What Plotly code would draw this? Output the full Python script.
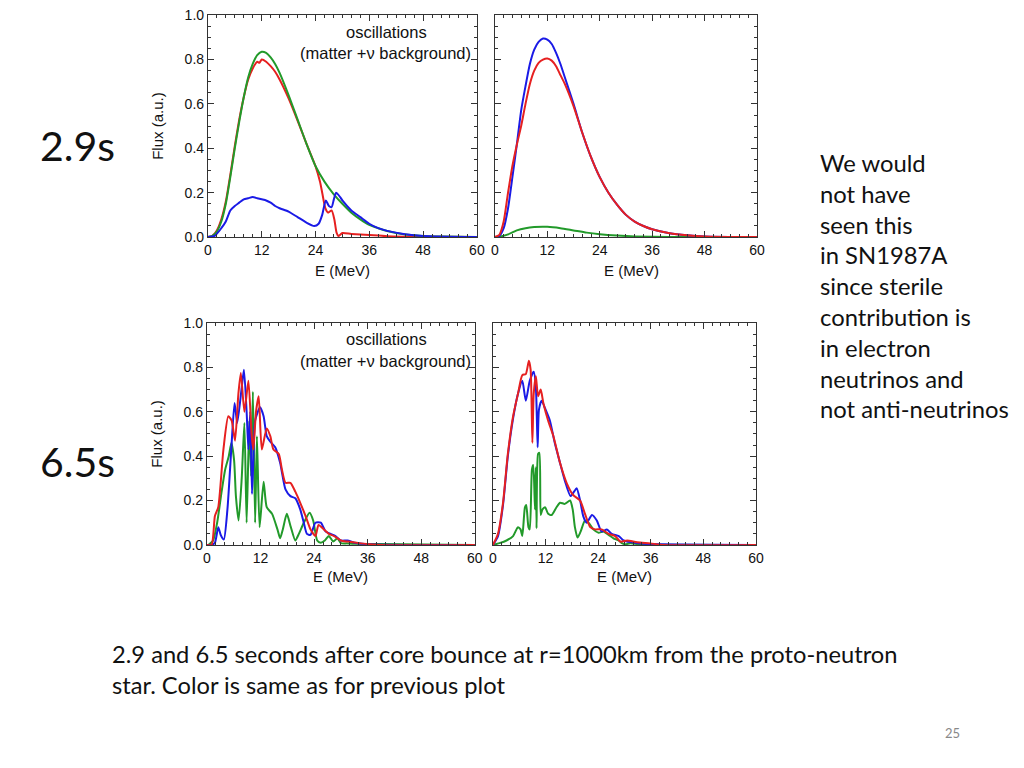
import plotly.graph_objects as go

W, H = 1024, 768
# The photographed page shows the window inside an 8px frame, scaled back to 1024x768.
FRAME = 8
SX = W / (W + 2 * FRAME)
SY = H / (H + 2 * FRAME)

# ---------------- data ----------------
# Panel A: 2.9 s, neutrinos (left, top)
a_green_E = [0, 1, 2, 3, 4, 5, 6, 7, 8, 9, 10, 11, 12, 13, 14, 15, 16, 18, 20, 22, 24, 26, 28, 30, 32, 34, 36, 38, 40, 42, 44, 48, 52, 60]
a_green_F = [0, 0.005, 0.025, 0.07, 0.15, 0.27, 0.40, 0.52, 0.63, 0.72, 0.78, 0.82, 0.835, 0.83, 0.81, 0.78, 0.74, 0.64, 0.53, 0.42, 0.32, 0.25, 0.195, 0.15, 0.11, 0.08, 0.055, 0.04, 0.027, 0.018, 0.012, 0.005, 0.002, 0]
a_red_E = [0, 1, 2, 3, 4, 5, 6, 7, 8, 9, 10, 11, 11.5, 12, 13, 14, 15, 16, 18, 20, 22, 24, 25, 25.5, 26.2, 26.8, 27.6, 28.2, 28.7, 29.1, 30, 32, 36, 40, 48, 60]
a_red_F = [0, 0.005, 0.03, 0.08, 0.16, 0.28, 0.41, 0.53, 0.63, 0.71, 0.76, 0.79, 0.785, 0.80, 0.79, 0.77, 0.745, 0.71, 0.625, 0.525, 0.42, 0.32, 0.25, 0.2, 0.13, 0.11, 0.12, 0.08, 0.02, 0.005, 0.018, 0.014, 0.009, 0.004, 0.001, 0]
a_blue_E = [0, 1.5, 3, 4, 5, 6, 7, 8, 9, 10, 11, 12, 13, 14, 15, 16, 18, 20, 22, 23.7, 24.7, 25.5, 26.3, 27, 27.6, 28.1, 28.6, 29.5, 30, 32, 34, 36, 38, 40, 44, 48, 60]
a_blue_F = [0, 0.005, 0.04, 0.07, 0.12, 0.14, 0.155, 0.17, 0.175, 0.18, 0.175, 0.17, 0.165, 0.155, 0.14, 0.13, 0.115, 0.09, 0.065, 0.05, 0.06, 0.1, 0.165, 0.14, 0.135, 0.17, 0.2, 0.18, 0.165, 0.12, 0.09, 0.06, 0.04, 0.028, 0.013, 0.005, 0]

# Panel B: 2.9 s, antineutrinos (right, top)
b_blue_E = [0, 1, 2, 3, 4, 5, 6, 7, 8, 9, 10, 11, 12, 13, 14, 15, 16, 18, 20, 22, 24, 26, 28, 30, 32, 34, 36, 40, 44, 48, 60]
b_blue_F = [0, 0.005, 0.04, 0.13, 0.27, 0.415, 0.57, 0.68, 0.78, 0.845, 0.88, 0.895, 0.89, 0.87, 0.83, 0.78, 0.72, 0.60, 0.47, 0.36, 0.27, 0.2, 0.145, 0.10, 0.07, 0.05, 0.035, 0.017, 0.008, 0.003, 0]
b_red_E = [0, 1, 2, 3, 4, 5, 6, 7, 8, 9, 10, 11, 12, 13, 14, 15, 16, 18, 20, 22, 24, 26, 28, 30, 32, 34, 36, 40, 44, 48, 60]
b_red_F = [0, 0.01, 0.07, 0.2, 0.32, 0.415, 0.50, 0.6, 0.69, 0.75, 0.785, 0.80, 0.805, 0.795, 0.77, 0.73, 0.69, 0.59, 0.47, 0.36, 0.27, 0.2, 0.145, 0.10, 0.07, 0.05, 0.035, 0.017, 0.008, 0.003, 0]
b_green_E = [0, 1, 3, 5, 7, 9, 12, 15, 18, 21, 24, 28, 32, 40, 60]
b_green_F = [0, 0.002, 0.012, 0.03, 0.04, 0.045, 0.046, 0.04, 0.03, 0.02, 0.013, 0.007, 0.003, 0.0005, 0]

# Panel C: 6.5 s, neutrinos (left, bottom)
c_red_E = [0, 1.05, 1.8, 2.55, 3.7, 4.8, 5.55, 6.3, 7.05, 7.6, 8.4, 9.3, 10.0, 10.4, 11.0, 11.6, 12.3, 13.4, 14.2, 14.9, 16.1, 16.8, 17.6, 18.7, 19.8, 20.9, 22.1, 23.2, 24.3, 25.0, 26.2, 27.3, 28.5, 30, 31.5, 34.5, 39, 60]
c_red_F = [0, 0.0, 0.13, 0.17, 0.43, 0.58, 0.56, 0.47, 0.68, 0.775, 0.6, 0.74, 0.5, 0.43, 0.6, 0.67, 0.43, 0.525, 0.49, 0.43, 0.41, 0.34, 0.28, 0.28, 0.24, 0.19, 0.13, 0.07, 0.04, 0.09, 0.07, 0.05, 0.04, 0.02, 0.015, 0.007, 0.0, 0]
c_blue_E = [0, 1.05, 1.8, 2.55, 3.1, 3.8, 4.6, 5.55, 6.2, 6.8, 7.8, 8.3, 8.9, 9.3, 9.7, 10.1, 10.4, 10.8, 11.9, 12.7, 13.4, 14.2, 15.3, 16.4, 17.6, 18.7, 19.8, 20.9, 21.7, 22.4, 23.2, 24.3, 25.5, 26.6, 27.7, 28.8, 30, 31.5, 33, 37.5, 60]
c_blue_F = [0, 0.0, 0.01, 0.08, 0.045, 0.025, 0.16, 0.46, 0.64, 0.55, 0.71, 0.79, 0.6, 0.43, 0.6, 0.23, 0.38, 0.56, 0.62, 0.58, 0.49, 0.465, 0.44, 0.37, 0.25, 0.22, 0.21, 0.16, 0.10, 0.05, 0.045, 0.1, 0.1, 0.06, 0.05, 0.04, 0.02, 0.02, 0.01, 0.002, 0]
c_green_E = [0, 0.3, 1.4, 2.3, 3.3, 4.1, 4.9, 5.5, 6.1, 6.5, 7.1, 7.8, 8.4, 8.9, 9.5, 9.9, 10.3, 10.8, 11.2, 11.8, 12.7, 13.4, 14.6, 15.8, 16.4, 17.0, 17.9, 18.8, 19.8, 20.6, 21.7, 23.0, 23.8, 24.7, 25.5, 26.4, 27.3, 28.3, 29.2, 30, 31.5, 33, 60]
c_green_F = [0, 0, 0.02, 0.1, 0.24, 0.34, 0.40, 0.46, 0.38, 0.22, 0.11, 0.3, 0.55, 0.1, 0.56, 0.31, 0.69, 0.1, 0.49, 0.08, 0.285, 0.17, 0.14, 0.07, 0.03, 0.07, 0.14, 0.08, 0.02, 0.05, 0.1, 0.145, 0.11, 0.02, 0.01, 0.02, 0.04, 0.015, 0.03, 0.008, 0.007, 0.005, 0]

# Panel D: 6.5 s, antineutrinos (right, bottom)
d_red_E = [0, 1.15, 2.3, 3.4, 4.6, 5.7, 6.7, 7.5, 8.2, 8.6, 9.0, 9.3, 9.8, 10.3, 10.9, 11.5, 12.6, 13.8, 15.3, 16.8, 18.3, 19.9, 21, 22.2, 23.3, 24.8, 26.4, 27.9, 29.1, 30.6, 32.9, 35.9, 39, 60]
d_red_F = [0, 0.05, 0.19, 0.41, 0.58, 0.68, 0.765, 0.77, 0.83, 0.79, 0.46, 0.68, 0.76, 0.67, 0.70, 0.64, 0.56, 0.49, 0.37, 0.28, 0.225, 0.20, 0.14, 0.08, 0.07, 0.07, 0.05, 0.04, 0.015, 0.02, 0.012, 0.007, 0.0, 0]
d_blue_E = [0, 1.15, 2.3, 3.4, 4.6, 5.7, 6.7, 7.5, 8.4, 9.3, 9.8, 10.2, 10.5, 11.1, 11.9, 13, 14.1, 15.3, 16.4, 17.7, 18.5, 19.1, 19.9, 20.6, 21.4, 22.6, 23.7, 24.8, 26, 27.1, 28.7, 29.8, 31.7, 34.4, 60]
d_blue_F = [0, 0.04, 0.18, 0.40, 0.57, 0.68, 0.74, 0.65, 0.74, 0.78, 0.71, 0.44, 0.61, 0.65, 0.615, 0.56, 0.46, 0.37, 0.29, 0.22, 0.24, 0.255, 0.2, 0.13, 0.1, 0.135, 0.11, 0.06, 0.07, 0.05, 0.04, 0.02, 0.012, 0.005, 0]
d_green_E = [0, 1.5, 3.1, 4.6, 5.7, 6.3, 6.7, 7.3, 7.6, 8.1, 8.4, 8.9, 9.2, 9.6, 9.8, 9.95, 10.3, 10.6, 10.9, 11.3, 11.9, 12.6, 13.4, 14.5, 15.3, 16.4, 17.6, 18.2, 18.7, 19.3, 20, 21, 21.8, 22.9, 24.1, 25.2, 26.4, 27.5, 28.7, 29.4, 30.2, 31.3, 33.6, 60]
d_green_F = [0, 0.008, 0.02, 0.04, 0.08, 0.07, 0.04, 0.17, 0.18, 0.08, 0.07, 0.34, 0.36, 0.16, 0.35, 0.075, 0.41, 0.415, 0.135, 0.16, 0.17, 0.14, 0.135, 0.17, 0.19, 0.185, 0.2, 0.16, 0.08, 0.033, 0.06, 0.11, 0.1, 0.07, 0.055, 0.06, 0.045, 0.03, 0.02, 0.008, 0.003, 0.008, 0.003, 0]

x_ticks = [0, 12, 24, 36, 48, 60]
y_ticks = [0.0, 0.2, 0.4, 0.6, 0.8, 1.0]
y_ticklabels = ["0.0", "0.2", "0.4", "0.6", "0.8", "1.0"]

BLUE = "#1a1ae6"
RED = "#e62020"
GREEN = "#229a2a"

# ---------------- layout helpers (target picture pixel -> paper coords) ----------------
def px(x):
    return (x / SX - FRAME) / W

def py(y):
    return 1 - (y / SY - FRAME) / H

panels = [
    # (xpix0, xpix1, ypix_top, ypix_bottom, show y labels)
    (211, 479, 15, 237, True),
    (497, 758, 15, 237, False),
    (210, 477, 323, 545, True),
    (495, 757, 323, 545, False),
]

series = [
    [(a_red_E, a_red_F, RED), (a_green_E, a_green_F, GREEN), (a_blue_E, a_blue_F, BLUE)],
    [(b_green_E, b_green_F, GREEN), (b_blue_E, b_blue_F, BLUE), (b_red_E, b_red_F, RED)],
    [(c_green_E, c_green_F, GREEN), (c_blue_E, c_blue_F, BLUE), (c_red_E, c_red_F, RED)],
    [(d_green_E, d_green_F, GREEN), (d_blue_E, d_blue_F, BLUE), (d_red_E, d_red_F, RED)],
]

fig = go.Figure()
TICKFONT = dict(family="Liberation Sans, Arial, sans-serif", size=14, color="#111")

for i, ((x0, x1, yt, yb, showy), ser) in enumerate(zip(panels, series)):
    n = "" if i == 0 else str(i + 1)
    for E, F, col in ser:
        fig.add_trace(go.Scatter(x=E, y=F, mode="lines", xaxis="x" + n, yaxis="y" + n,
                                 line=dict(color=col, width=2, shape="spline", smoothing=0.6),
                                 showlegend=False, hoverinfo="skip"))
    fig.layout["xaxis" + n] = dict(
        domain=[px(x0), px(x1)], anchor="y" + n, range=[0, 60],
        tickvals=x_ticks, ticktext=[str(t) for t in x_ticks],
        ticks="inside", ticklen=6, tickcolor="#333", showline=True, linecolor="#333",
        linewidth=1, mirror="allticks", showgrid=False, zeroline=False,
        minor=dict(dtick=2, ticks="inside", ticklen=3, tickcolor="#333", showgrid=False),
        tickfont=TICKFONT,
    )
    fig.layout["yaxis" + n] = dict(
        domain=[py(yb), py(yt)], anchor="x" + n, range=[0, 1.0],
        tickvals=y_ticks, ticktext=y_ticklabels, showticklabels=showy,
        ticks="inside", ticklen=6, tickcolor="#333", showline=True, linecolor="#333",
        linewidth=1, mirror="allticks", showgrid=False, zeroline=False,
        minor=dict(dtick=0.05, ticks="inside", ticklen=3, tickcolor="#333", showgrid=False),
        tickfont=TICKFONT,
    )

ann = []
AXF = dict(family="Liberation Sans, Arial, sans-serif", size=15, color="#111")
INF = dict(family="Liberation Sans, Arial, sans-serif", size=16.5, color="#111")
# axis titles
for cx, cy in [(345, 270), (633, 270), (343, 577), (626, 577)]:
    ann.append(dict(x=px(cx), y=py(cy), text="E (MeV)", font=AXF))
for cy in [126, 434]:
    ann.append(dict(x=px(160), y=py(cy), text="Flux (a.u.)", textangle=-90, font=AXF))
# in-panel labels
for y1, y2 in [(32, 53), (339, 361)]:
    ann.append(dict(x=px(389), y=py(y1), text="oscillations", font=INF))
    ann.append(dict(x=px(388), y=py(y2), text="(matter +\u03bd background)", font=INF))

SLIDE = "Lato, Carlito, Calibri, sans-serif"
ann.append(dict(x=px(42), y=py(145), text="2.9s", xanchor="left", font=dict(family=SLIDE, size=41, color="#111")))
ann.append(dict(x=px(42), y=py(462), text="6.5s", xanchor="left", font=dict(family=SLIDE, size=41, color="#111")))

side_lines = ["We would", "not have", "seen this", "in SN1987A", "since sterile",
              "contribution is", "in electron", "neutrinos and", "not anti-neutrinos"]
for k, s in enumerate(side_lines):
    ann.append(dict(x=px(819), y=py(163 + k * 30.8), text=s, xanchor="left",
                    font=dict(family=SLIDE, size=23.8, color="#111")))

ann.append(dict(x=px(113), y=py(654), xanchor="left",
                text="2.9 and 6.5 seconds after core bounce at r=1000km from the proto-neutron",
                font=dict(family=SLIDE, size=23.7, color="#111")))
ann.append(dict(x=px(113), y=py(685), xanchor="left",
                text="star. Color is same as for previous plot",
                font=dict(family=SLIDE, size=23.7, color="#111")))
ann.append(dict(x=px(953), y=py(733), text="25", font=dict(family=SLIDE, size=13, color="#888")))

for a in ann:
    a.setdefault("xref", "paper")
    a.setdefault("yref", "paper")
    a.setdefault("showarrow", False)
    a.setdefault("xanchor", "center")
    a.setdefault("yanchor", "middle")

fig.update_layout(
    width=W, height=H, margin=dict(l=0, r=0, t=0, b=0),
    paper_bgcolor="white", plot_bgcolor="white",
    annotations=ann, showlegend=False,
)

# pin the figure to the window's top-left corner (no body margin / scrollbars)
PIN = ("document.documentElement.style.overflow='hidden';"
       "document.body.style.margin='0';document.body.style.overflow='hidden';"
       "var d=document.getElementById('{plot_id}');"
       "d.style.position='fixed';d.style.left='0px';d.style.top='0px';")

fig.write_html("out.html", post_script=PIN, config={"displayModeBar": False, "staticPlot": True})
